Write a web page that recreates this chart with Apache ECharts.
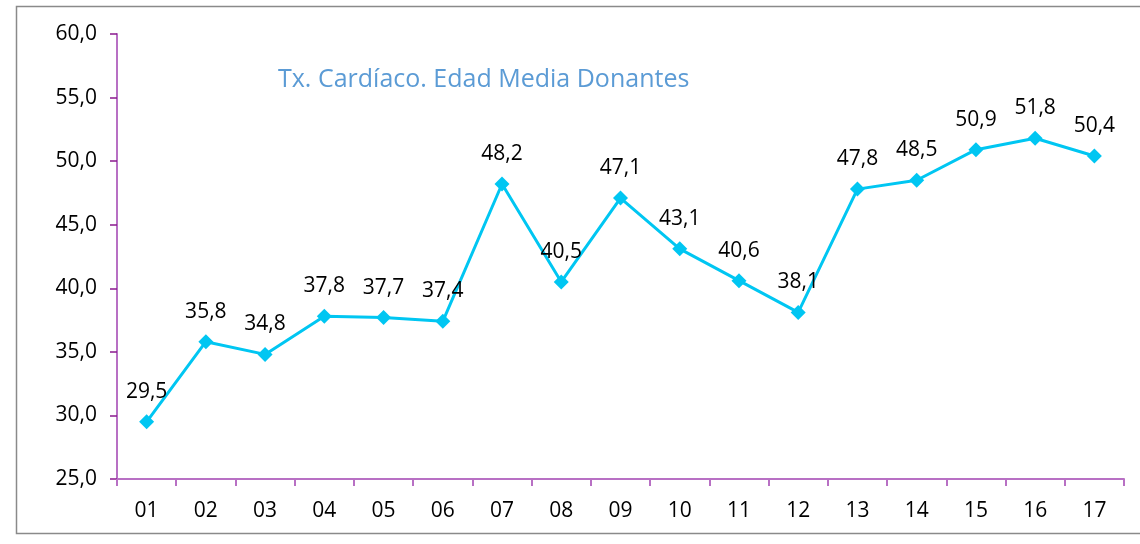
<!DOCTYPE html>
<html lang="es">
<head>
    <meta charset="UTF-8">
    <title>Tx. Cardíaco. Edad Media Donantes</title>
    <script src="https://cdn.jsdelivr.net/npm/echarts@6/dist/echarts.min.js"></script>
    <style>
        body{margin:0;background:#fff}
        #main{width:1140px;height:544px}
    </style>
</head>
<body>
<div id="main"></div>
<script>
    // datos
    var years = ['01','02','03','04','05','06','07','08','09','10','11','12','13','14','15','16','17']
    var edadMedia = [29.5,35.8,34.8,37.8,37.7,37.4,48.2,40.5,47.1,43.1,40.6,38.1,47.8,48.5,50.9,51.8,50.4]
    var yMin = 25, yMax = 60, yStep = 5

    var axisColor = '#b870c4'
    var font = '"Open Sans", sans-serif'

    var chart = echarts.init(document.getElementById('main'))
    var option = {
        animation: false,
        graphic: [
            {
                type: 'rect',
                shape: {x: 16.5, y: 6.5, width: 1200, height: 527},
                style: {fill: 'none', stroke: '#8a8a8a', lineWidth: 1.5}
            },
            {
                type: 'text',
                left: 278, top: 67,
                style: {text: 'Tx. Cardíaco. Edad Media Donantes', fill: '#5b9bd5', font: '25px ' + font}
            }
        ],
        grid: {left: 117, right: 16, top: 34, bottom: 65},
        xAxis: {
            type: 'category',
            data: years,
            boundaryGap: true,
            axisLine: {lineStyle: {color: axisColor, width: 2}},
            axisTick: {show: true, length: 7, lineStyle: {color: axisColor, width: 2}},
            axisLabel: {color: '#000', fontSize: 21, fontFamily: font, margin: 22}
        },
        yAxis: {
            type: 'value',
            min: yMin, max: yMax, interval: yStep,
            axisLine: {show: true, lineStyle: {color: axisColor, width: 2}},
            axisTick: {show: true, length: 7, lineStyle: {color: '#8b1a8f', width: 1.5}},
            splitLine: {show: false},
            axisLabel: {
                color: '#000', fontSize: 21, fontFamily: font, margin: 20,
                formatter: function (v) { return v.toFixed(1).replace('.', ',') }
            }
        },
        series: [
            {
                type: 'line',
                data: edadMedia,
                symbol: 'diamond',
                symbolSize: 15,
                lineStyle: {color: '#00c6f2', width: 3},
                itemStyle: {color: '#00c6f2'},
                label: {
                    show: true, position: 'top', distance: 12,
                    color: '#000', fontSize: 21, fontFamily: font,
                    formatter: function (p) { return p.value.toFixed(1).replace('.', ',') }
                }
            }
        ]
    }
    chart.setOption(option)
</script>
</body>
</html>
